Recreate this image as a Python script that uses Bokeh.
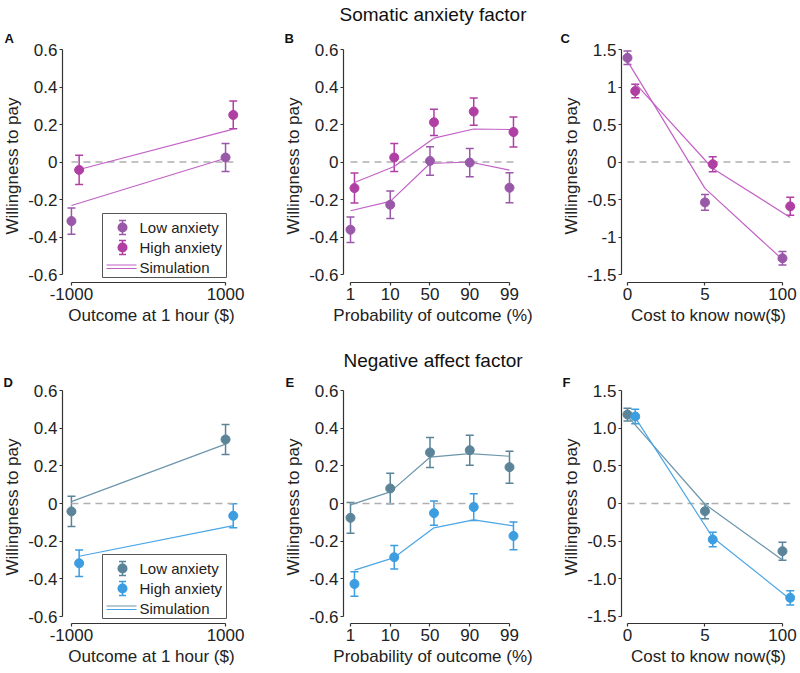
from bokeh.plotting import figure
from bokeh.models import (ColumnDataSource, Whisker, TeeHead, Label, BoxAnnotation,
                          FixedTicker, Range1d, Title)
from bokeh.layouts import row, column
from bokeh.embed import file_html
from bokeh.resources import INLINE

FONT = "Liberation Sans"

# ---------------- data ----------------
outcome_labels = ["-1000", "1000"]
prob_labels = ["1", "10", "50", "90", "99"]
cost_labels = ["0", "5", "100"]

y_ticks_small = [-0.6, -0.4, -0.2, 0, 0.2, 0.4, 0.6]
y_labels_small = ["-0.6", "-0.4", "-0.2", "0", "0.2", "0.4", "0.6"]
y_ticks_big = [-1.5, -1, -0.5, 0, 0.5, 1, 1.5]
y_labels_c = ["-1.5", "-1", "-0.5", "0", "0.5", "1", "1.5"]
y_labels_f = ["-1.5", "-1.0", "-0.5", "0", "0.5", "1.0", "1.5"]

# Somatic anxiety factor
som_out_low = [-0.315, 0.024]
som_out_low_err = [0.070, 0.075]
som_out_high = [-0.042, 0.251]
som_out_high_err = [0.078, 0.074]
som_out_sim_low = [-0.232, 0.020]
som_out_sim_high = [-0.040, 0.175]

som_prob_low = [-0.361, -0.228, 0.006, -0.003, -0.137]
som_prob_low_err = [0.068, 0.073, 0.076, 0.075, 0.080]
som_prob_high = [-0.139, 0.024, 0.212, 0.269, 0.160]
som_prob_high_err = [0.080, 0.075, 0.070, 0.073, 0.080]
som_prob_sim_low = [-0.260, -0.210, -0.008, 0.000, -0.043]
som_prob_sim_high = [-0.109, -0.024, 0.127, 0.176, 0.173]

som_cost_low = [1.389, -0.538, -1.283]
som_cost_low_err = [0.090, 0.105, 0.090]
som_cost_high = [0.946, -0.029, -0.591]
som_cost_high_err = [0.090, 0.100, 0.120]
som_cost_sim_low = [1.345, -0.352, -1.300]
som_cost_sim_high = [1.048, -0.086, -0.738]

# Negative affect factor
neg_out_low = [-0.042, 0.340]
neg_out_low_err = [0.080, 0.080]
neg_out_high = [-0.317, -0.065]
neg_out_high_err = [0.070, 0.064]
neg_out_sim_low = [0.010, 0.315]
neg_out_sim_high = [-0.280, -0.117]

neg_prob_low = [-0.076, 0.080, 0.271, 0.283, 0.193]
neg_prob_low_err = [0.082, 0.081, 0.080, 0.080, 0.085]
neg_prob_high = [-0.427, -0.285, -0.051, -0.019, -0.172]
neg_prob_high_err = [0.065, 0.062, 0.064, 0.071, 0.074]
neg_prob_sim_low = [-0.007, 0.062, 0.246, 0.265, 0.251]
neg_prob_sim_high = [-0.354, -0.287, -0.129, -0.087, -0.119]

neg_cost_low = [1.181, -0.102, -0.633]
neg_cost_low_err = [0.085, 0.100, 0.120]
neg_cost_high = [1.155, -0.478, -1.252]
neg_cost_high_err = [0.095, 0.095, 0.095]
neg_cost_sim_low = [1.160, -0.010, -0.750]
neg_cost_sim_high = [1.140, -0.451, -1.270]

# ---------------- styles ----------------
SOM = dict(low="#9a58a8", high="#b03fa4", sim_low="#c262c6", sim_high="#c262c6")
NEG = dict(low="#5b8498", high="#3c9de0", sim_low="#6b95ab", sim_high="#4aa6e6")
AXIS_COLOR = "#333333"
TEXT_COLOR = "#222222"


def style_letter(t, text, offset, standoff):
    t.text = text
    t.align = "left"
    t.offset = offset
    t.standoff = standoff
    t.text_font = FONT
    t.text_font_size = "13px"
    t.text_font_style = "bold"
    t.text_color = "#111111"


def make_panel(xlabels, low, low_err, high, high_err, sim_low, sim_high, colors,
               offset, x_start, x_end, y_start, y_end, yticks, ylabels, xlabel,
               width, height, bl, br, bt, bb, letter, letter_offset, letter_standoff,
               main_title=None, main_standoff=0):
    p = figure(width=width, height=height, output_backend="svg", toolbar_location=None,
               x_range=Range1d(x_start, x_end), y_range=Range1d(y_start, y_end),
               min_border_left=bl, min_border_right=br, min_border_top=bt,
               min_border_bottom=bb)
    p.outline_line_color = None
    p.grid.visible = False
    p.background_fill_color = "white"
    p.border_fill_color = "white"

    if main_title is None:
        # panel letter is the plot title
        style_letter(p.title, letter, letter_offset, letter_standoff)
    else:
        # group title is the (outermost) plot title, letter sits just above the frame
        p.title.text = main_title
        p.title.align = "center"
        p.title.standoff = main_standoff
        p.title.text_font = FONT
        p.title.text_font_size = "19px"
        p.title.text_font_style = "normal"
        p.title.text_color = "#111111"
        lt = Title()
        style_letter(lt, letter, letter_offset, letter_standoff)
        p.add_layout(lt, "above")

    n = len(xlabels)
    xs = list(range(n))
    xh = [x + offset for x in xs]

    # x axis
    p.xaxis.ticker = FixedTicker(ticks=xs)
    p.xaxis.major_label_overrides = {i: lab for i, lab in zip(xs, xlabels)}
    p.xaxis.bounds = (xs[0], xs[-1])
    p.xaxis.axis_label = xlabel
    # y axis
    p.yaxis.ticker = FixedTicker(ticks=yticks)
    p.yaxis.major_label_overrides = {t: lab for t, lab in zip(yticks, ylabels)}
    p.yaxis.bounds = (yticks[0], yticks[-1])
    p.yaxis.axis_label = "Willingness to pay"

    for ax in (p.xaxis[0], p.yaxis[0]):
        ax.axis_line_color = AXIS_COLOR
        ax.axis_line_width = 1.2
        ax.major_tick_line_color = AXIS_COLOR
        ax.major_tick_line_width = 1.2
        ax.major_tick_in = 0
        ax.major_tick_out = 3
        ax.minor_tick_line_color = None
        ax.major_label_standoff = 2
        ax.major_label_text_font = FONT
        ax.major_label_text_font_size = "17px"
        ax.major_label_text_color = TEXT_COLOR
        ax.axis_label_text_font = FONT
        ax.axis_label_text_font_size = "17px"
        ax.axis_label_text_font_style = "normal"
        ax.axis_label_text_color = TEXT_COLOR
        ax.axis_label_standoff = 3

    # zero reference line
    p.segment(x0=[xs[0]], x1=[xh[-1]], y0=[0], y1=[0], line_color="#b0b0b0",
              line_width=1.3, line_dash="7 5")

    # simulation lines
    p.line(xs, sim_low, line_color=colors["sim_low"], line_width=1.2)
    p.line(xh, sim_high, line_color=colors["sim_high"], line_width=1.2)

    # error bars + points
    for xx, vals, errs, c in ((xs, low, low_err, colors["low"]),
                              (xh, high, high_err, colors["high"])):
        src = ColumnDataSource(dict(x=xx, y=vals,
                                    lo=[v - e for v, e in zip(vals, errs)],
                                    hi=[v + e for v, e in zip(vals, errs)]))
        w = Whisker(base="x", lower="lo", upper="hi", source=src, line_color=c,
                    line_width=1.5,
                    upper_head=TeeHead(size=8, line_color=c, line_width=1.5),
                    lower_head=TeeHead(size=8, line_color=c, line_width=1.5))
        p.add_layout(w)
        p.scatter("x", "y", source=src, size=9, fill_color=c, line_color=c)
    return p


def add_legend(p, colors):
    box = BoxAnnotation(left=40, right=164, bottom=5, top=69,
                        left_units="screen", right_units="screen",
                        top_units="screen", bottom_units="screen",
                        fill_color="white", fill_alpha=1.0,
                        line_color="#555555", line_width=1, line_alpha=1.0)
    p.add_layout(box)
    items = [("Low anxiety", colors["low"], 55), ("High anxiety", colors["high"], 35)]
    for text, c, yc in items:
        src = ColumnDataSource(dict(b=[60], lo=[yc - 7], hi=[yc + 7]))
        p.add_layout(Whisker(base="b", lower="lo", upper="hi", source=src,
                             base_units="screen", lower_units="screen",
                             upper_units="screen", line_color=c, line_width=1.5,
                             upper_head=TeeHead(size=7, line_color=c, line_width=1.5),
                             lower_head=TeeHead(size=7, line_color=c, line_width=1.5),
                             level="annotation"))
        p.add_layout(BoxAnnotation(left=55, right=65, bottom=yc - 5, top=yc + 5,
                                   left_units="screen", right_units="screen",
                                   top_units="screen", bottom_units="screen",
                                   fill_color=c, fill_alpha=1.0, line_color=None,
                                   border_radius=5))
        p.add_layout(Label(x=77, y=yc, x_units="screen", y_units="screen", text=text,
                           text_font=FONT, text_font_size="15px", text_color=TEXT_COLOR,
                           text_baseline="middle"))
    for c, yl in ((colors["sim_low"], 17.5), (colors["sim_high"], 14)):
        src = ColumnDataSource(dict(b=[yl], lo=[44], hi=[74]))
        p.add_layout(Whisker(dimension="width", base="b", lower="lo", upper="hi",
                             source=src, base_units="screen", lower_units="screen",
                             upper_units="screen", line_color=c, line_width=1.1,
                             upper_head=None, lower_head=None, level="annotation"))
    p.add_layout(Label(x=77, y=15, x_units="screen", y_units="screen", text="Simulation",
                       text_font=FONT, text_font_size="15px", text_color=TEXT_COLOR,
                       text_baseline="middle"))


# geometry: upper row frame 48..282, lower row frame 390..623
UP = dict(height=330, bt=48, bb=48, letter_standoff=7)
LO = dict(height=343, bt=60, bb=50, letter_standoff=2)
A_X = dict(offset=0.05, x_start=-0.058, x_end=1.097, width=270, bl=62, br=30)
B_X = dict(offset=0.1, x_start=-0.176, x_end=4.327, width=265, bl=73, br=13)
C_X = dict(offset=0.1, x_start=-0.077, x_end=2.168, width=265, bl=86, br=5)

pA = make_panel(outcome_labels, som_out_low, som_out_low_err, som_out_high, som_out_high_err,
                som_out_sim_low, som_out_sim_high, SOM, y_start=-0.6425, y_end=0.6,
                yticks=y_ticks_small, ylabels=y_labels_small,
                xlabel="Outcome at 1 hour ($)", letter="A", letter_offset=-58,
                **A_X, **UP)
pB = make_panel(prob_labels, som_prob_low, som_prob_low_err, som_prob_high, som_prob_high_err,
                som_prob_sim_low, som_prob_sim_high, SOM, y_start=-0.6425, y_end=0.6,
                yticks=y_ticks_small, ylabels=y_labels_small,
                xlabel="Probability of outcome (%)", letter="B", letter_offset=-59,
                main_title="Somatic anxiety factor", main_standoff=2, **B_X, **UP)
pC = make_panel(cost_labels, som_cost_low, som_cost_low_err, som_cost_high, som_cost_high_err,
                som_cost_sim_low, som_cost_sim_high, SOM, y_start=-1.606, y_end=1.5,
                yticks=y_ticks_big, ylabels=y_labels_c,
                xlabel="Cost to know now($)", letter="C", letter_offset=-61,
                **C_X, **UP)
pD = make_panel(outcome_labels, neg_out_low, neg_out_low_err, neg_out_high, neg_out_high_err,
                neg_out_sim_low, neg_out_sim_high, NEG, y_start=-0.637, y_end=0.6,
                yticks=y_ticks_small, ylabels=y_labels_small,
                xlabel="Outcome at 1 hour ($)", letter="D", letter_offset=-59,
                **A_X, **LO)
pE = make_panel(prob_labels, neg_prob_low, neg_prob_low_err, neg_prob_high, neg_prob_high_err,
                neg_prob_sim_low, neg_prob_sim_high, NEG, y_start=-0.637, y_end=0.6,
                yticks=y_ticks_small, ylabels=y_labels_small,
                xlabel="Probability of outcome (%)", letter="E", letter_offset=-58,
                main_title="Negative affect factor", main_standoff=2, **B_X, **LO)
pF = make_panel(cost_labels, neg_cost_low, neg_cost_low_err, neg_cost_high, neg_cost_high_err,
                neg_cost_sim_low, neg_cost_sim_high, NEG, y_start=-1.593, y_end=1.5,
                yticks=y_ticks_big, ylabels=y_labels_f,
                xlabel="Cost to know now($)", letter="F", letter_offset=-59,
                **C_X, **LO)

add_legend(pA, SOM)
add_legend(pD, NEG)

layout = column(row(pA, pB, pC), row(pD, pE, pF))

open("out.html", "w").write(file_html(layout, INLINE))
